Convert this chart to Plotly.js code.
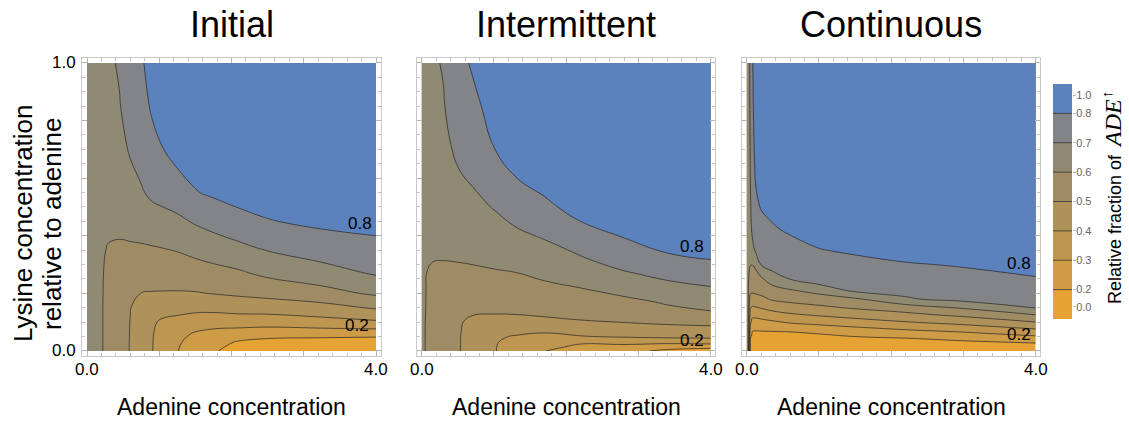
<!DOCTYPE html>
<html><head><meta charset="utf-8">
<script src="https://cdn.plot.ly/plotly-3.0.1.min.js"></script>
<style>html,body{margin:0;padding:0;background:#fff;} #chart{width:1129px;height:423px;}</style>
</head><body><div id="chart"></div>
<script>
// ---------- data ----------
const panelTitles = ['Initial', 'Intermittent', 'Continuous'];
const contourLevels = [0.2, 0.3, 0.4, 0.5, 0.6, 0.7, 0.8];
const bandTickLabels = ['0.0', '0.2', '0.3', '0.4', '0.5', '0.6', '0.7', '0.8', '1.0'];
const bandColors = ['#E6A232', '#CE9B46', '#BE9650', '#AF915A', '#A08C64', '#918A73', '#828487', '#5C82BE'];
const xTickLabels = ['0.0', '4.0'];
const yTickLabels = ['0.0', '1.0'];

// Initial panel: adenine (x) grid, lysine (y) grid, z given column by column (one array per x)
const initialX = [0, 0.1, 0.2, 0.3, 0.45, 0.6, 0.75, 0.9, 1.05, 1.25, 1.5, 1.75, 2.1, 2.5, 3.25, 4];
const initialY = [0, 0.03, 0.06, 0.1, 0.15, 0.2, 0.27, 0.35, 0.45, 0.55, 0.7, 0.85, 1.0];
const initialZ = [
  [0.655,0.655,0.655,0.655,0.655,0.656,0.657,0.658,0.66,0.662,0.664,0.666,0.668],
  [0.632,0.632,0.632,0.633,0.633,0.634,0.636,0.64,0.648,0.655,0.662,0.668,0.672],
  [0.605,0.605,0.605,0.605,0.605,0.606,0.607,0.612,0.625,0.64,0.658,0.672,0.678],
  [0.578,0.578,0.578,0.578,0.579,0.58,0.583,0.592,0.624,0.645,0.665,0.68,0.685],
  [0.537,0.537,0.538,0.54,0.545,0.552,0.565,0.585,0.625,0.645,0.67,0.695,0.71],
  [0.496,0.496,0.497,0.498,0.502,0.52,0.55,0.585,0.635,0.665,0.71,0.745,0.77],
  [0.45,0.451,0.453,0.457,0.468,0.499,0.545,0.586,0.645,0.69,0.74,0.77,0.79],
  [0.403,0.404,0.406,0.413,0.44,0.495,0.545,0.59,0.655,0.72,0.775,0.81,0.83],
  [0.36,0.362,0.368,0.385,0.44,0.494,0.545,0.595,0.665,0.735,0.798,0.84,0.855],
  [0.303,0.31,0.325,0.37,0.435,0.493,0.548,0.604,0.68,0.755,0.835,0.87,0.885],
  [0.255,0.27,0.292,0.345,0.43,0.495,0.555,0.625,0.71,0.795,0.85,0.88,0.895],
  [0.21,0.235,0.272,0.34,0.43,0.503,0.568,0.645,0.735,0.815,0.86,0.885,0.9],
  [0.16,0.19,0.255,0.345,0.44,0.515,0.587,0.67,0.77,0.835,0.87,0.89,0.9],
  [0.13,0.17,0.24,0.345,0.445,0.53,0.62,0.703,0.795,0.845,0.875,0.89,0.9],
  [0.11,0.155,0.24,0.365,0.465,0.565,0.66,0.745,0.82,0.855,0.88,0.895,0.905],
  [0.1,0.14,0.24,0.385,0.51,0.615,0.71,0.77,0.83,0.86,0.885,0.9,0.91]
];

// Intermittent panel
const intermittentX = [0, 0.03, 0.07, 0.15, 0.3, 0.5, 0.7, 1.0, 1.3, 1.7, 2.2, 2.8, 3.4, 4];
const intermittentY = [0, 0.015, 0.03, 0.05, 0.075, 0.1, 0.13, 0.17, 0.22, 0.27, 0.32, 0.4, 0.5, 0.6, 0.7, 0.85, 1.0];
const intermittentZ = [
  [0.64,0.64,0.64,0.64,0.64,0.64,0.64,0.641,0.642,0.644,0.647,0.652,0.658,0.663,0.668,0.675,0.68],
  [0.605,0.605,0.605,0.605,0.605,0.606,0.607,0.609,0.613,0.622,0.633,0.645,0.655,0.662,0.668,0.677,0.685],
  [0.594,0.594,0.594,0.594,0.594,0.594,0.595,0.596,0.596,0.599,0.62,0.64,0.655,0.665,0.672,0.685,0.695],
  [0.578,0.578,0.578,0.578,0.578,0.578,0.579,0.58,0.583,0.59,0.603,0.63,0.65,0.662,0.672,0.685,0.69],
  [0.548,0.548,0.548,0.548,0.549,0.55,0.552,0.556,0.565,0.58,0.603,0.635,0.655,0.668,0.678,0.695,0.705],
  [0.507,0.507,0.507,0.507,0.508,0.509,0.512,0.52,0.54,0.565,0.611,0.638,0.665,0.69,0.715,0.745,0.77],
  [0.468,0.469,0.47,0.472,0.477,0.485,0.505,0.53,0.555,0.578,0.615,0.645,0.675,0.71,0.74,0.775,0.81],
  [0.405,0.405,0.406,0.41,0.43,0.455,0.503,0.54,0.57,0.593,0.617,0.655,0.705,0.755,0.798,0.835,0.855],
  [0.36,0.368,0.378,0.395,0.425,0.46,0.505,0.54,0.573,0.598,0.628,0.68,0.745,0.798,0.84,0.865,0.88],
  [0.302,0.322,0.35,0.39,0.41,0.46,0.525,0.56,0.582,0.62,0.65,0.71,0.78,0.835,0.86,0.88,0.89],
  [0.26,0.285,0.31,0.395,0.445,0.49,0.53,0.565,0.601,0.64,0.69,0.765,0.835,0.865,0.88,0.895,0.9],
  [0.222,0.28,0.32,0.41,0.45,0.502,0.545,0.575,0.64,0.69,0.75,0.805,0.85,0.875,0.885,0.9,0.905],
  [0.185,0.23,0.33,0.42,0.46,0.52,0.57,0.61,0.67,0.73,0.79,0.83,0.86,0.88,0.89,0.905,0.91],
  [0.17,0.22,0.35,0.42,0.47,0.53,0.585,0.65,0.695,0.76,0.802,0.84,0.865,0.88,0.89,0.905,0.91]
];

// Continuous panel
const continuousX = [0, 0.02, 0.035, 0.05, 0.08, 0.13, 0.2, 0.35, 0.6, 1.0, 1.5, 2.2, 3.0, 4];
const continuousY = [0, 0.02, 0.04, 0.06, 0.08, 0.1, 0.125, 0.15, 0.18, 0.21, 0.25, 0.3, 0.35, 0.42, 0.5, 0.65, 0.8, 1.0];
const continuousZ = [
  [0.64,0.64,0.64,0.64,0.64,0.64,0.64,0.64,0.641,0.642,0.644,0.647,0.65,0.653,0.656,0.66,0.663,0.666],
  [0.61,0.61,0.61,0.61,0.61,0.61,0.61,0.611,0.612,0.614,0.617,0.622,0.63,0.64,0.65,0.66,0.667,0.675],
  [0.398,0.41,0.42,0.43,0.44,0.455,0.475,0.499,0.525,0.55,0.585,0.615,0.635,0.655,0.668,0.68,0.688,0.695],
  [0.19,0.195,0.199,0.24,0.28,0.32,0.36,0.403,0.47,0.52,0.56,0.605,0.64,0.665,0.685,0.702,0.706,0.708],
  [0.17,0.175,0.18,0.19,0.215,0.26,0.33,0.39,0.455,0.52,0.555,0.602,0.665,0.725,0.75,0.77,0.785,0.795],
  [0.16,0.165,0.17,0.18,0.22,0.26,0.33,0.395,0.46,0.53,0.575,0.615,0.725,0.76,0.785,0.82,0.835,0.845],
  [0.15,0.155,0.165,0.18,0.225,0.27,0.34,0.405,0.475,0.535,0.585,0.705,0.745,0.77,0.805,0.84,0.855,0.865],
  [0.14,0.148,0.16,0.18,0.23,0.285,0.36,0.43,0.51,0.555,0.65,0.74,0.765,0.79,0.82,0.85,0.865,0.875],
  [0.13,0.14,0.155,0.18,0.245,0.31,0.385,0.455,0.53,0.59,0.702,0.745,0.77,0.81,0.835,0.86,0.875,0.885],
  [0.125,0.14,0.16,0.202,0.265,0.33,0.41,0.48,0.55,0.635,0.76,0.775,0.797,0.83,0.85,0.87,0.88,0.89],
  [0.12,0.14,0.17,0.23,0.29,0.355,0.44,0.51,0.585,0.72,0.75,0.78,0.81,0.84,0.855,0.875,0.885,0.895],
  [0.115,0.145,0.185,0.255,0.32,0.395,0.475,0.545,0.69,0.725,0.76,0.795,0.825,0.85,0.865,0.88,0.89,0.9],
  [0.11,0.15,0.215,0.28,0.355,0.435,0.52,0.61,0.73,0.75,0.78,0.805,0.83,0.855,0.87,0.885,0.895,0.905],
  [0.105,0.17,0.25,0.33,0.415,0.498,0.598,0.705,0.735,0.76,0.795,0.825,0.845,0.865,0.875,0.89,0.9,0.91]
];

// ---------- build the figure ----------
const FONT = 'Liberation Sans, Arial, sans-serif';
const SERIF = 'Liberation Serif, Times New Roman, serif';
const nBands = bandColors.length;
const bandScale = bandColors.map((c, i) => [i / (nBands - 1), c]);
const lvStart = contourLevels[0], lvEnd = contourLevels[contourLevels.length - 1];
const lvSize = +(contourLevels[1] - contourLevels[0]).toFixed(6);

const panels = [
  {x: initialX, y: initialY, z: initialZ},
  {x: intermittentX, y: intermittentY, z: intermittentZ},
  {x: continuousX, y: continuousY, z: continuousZ}
];
const axId = (i, a) => i === 0 ? a : a + (i + 1);

const traces = panels.map((p, i) => ({
  type: 'contour',
  x: p.x, y: p.y, z: p.z, transpose: true,
  xaxis: axId(i, 'x'), yaxis: axId(i, 'y'),
  autocontour: false,
  contours: {start: lvStart, end: lvEnd, size: lvSize, coloring: 'fill', showlines: true},
  colorscale: bandScale,
  line: {color: 'rgba(40,40,40,0.72)', width: 1, smoothing: 1.3},
  showscale: false,
  hoverinfo: 'skip'
}));

// colour key: one cell per band
traces.push({
  type: 'heatmap',
  x: [0],
  y: bandColors.map((c, i) => i),
  z: bandColors.map((c, i) => [i]),
  zmin: 0, zmax: nBands - 1,
  colorscale: bandScale,
  showscale: false,
  xaxis: 'x4', yaxis: 'y4',
  hoverinfo: 'skip'
});

const px = v => v / 1129;
const py = v => 1 - v / 423;
const yDomain = [py(356.0), py(57.9)];
const xDomains = [[px(82.3), px(380.7)], [px(417.0), px(715.4)], [px(742.0), px(1040.4)]];

const frameCommon = {
  showline: true, mirror: 'ticks', linecolor: '#c9c9c9', linewidth: 1,
  ticks: 'inside', ticklen: 5, tickwidth: 1, tickcolor: '#b5b5b5',
  showticklabels: false,
  showgrid: false, zeroline: false, fixedrange: true
};
function xAxis(dom, anchor) {
  return Object.assign({}, frameCommon, {
    domain: dom, anchor: anchor, range: [-0.065, 4.065],
    tickmode: 'array', tickvals: [0, 1, 2, 3, 4],
    minor: {tickmode: 'linear', tick0: 0, dtick: 0.2, ticks: 'inside', ticklen: 3, tickwidth: 1, tickcolor: '#c2c2c2', showgrid: false}
  });
}
function yAxis(anchor) {
  return Object.assign({}, frameCommon, {
    domain: yDomain, anchor: anchor, range: [-0.0175, 1.0175],
    tickmode: 'array', tickvals: [0, 0.2, 0.4, 0.6, 0.8, 1.0],
    minor: {tickmode: 'linear', tick0: 0, dtick: 0.05, ticks: 'inside', ticklen: 3, tickwidth: 1, tickcolor: '#c2c2c2', showgrid: false}
  });
}

const annotations = [];
panelTitles.forEach((t, i) => {
  const xr = axId(i, 'x') + ' domain';
  annotations.push({text: t, xref: xr, x: 0.5, yref: 'paper', y: py(25), xanchor: 'center', yanchor: 'middle',
    showarrow: false, font: {family: FONT, size: 36, color: '#000'}});
  annotations.push({text: 'Adenine concentration', xref: xr, x: 0.5, yref: 'paper', y: py(407), xanchor: 'center', yanchor: 'middle',
    showarrow: false, font: {family: FONT, size: 23, color: '#000'}});
  // tick labels at the ends of the adenine axis
  [0, 4].forEach((v, k) => annotations.push({text: xTickLabels[k], xref: axId(i, 'x'), x: v, yref: 'paper', y: py(369),
    xanchor: 'center', yanchor: 'middle', showarrow: false, font: {family: FONT, size: 17, color: '#000'}}));
});
// tick labels at the ends of the lysine axis (first panel only)
[0, 1].forEach((v, k) => annotations.push({text: yTickLabels[k], xref: 'paper', x: px(78), yref: 'y', y: v,
  xanchor: 'right', yanchor: 'middle', showarrow: false, font: {family: FONT, size: 17, color: '#000'}}));

annotations.push({text: 'Lysine concentration', xref: 'paper', x: px(23), yref: 'paper', y: py(223), textangle: -90,
  xanchor: 'center', yanchor: 'middle', showarrow: false, font: {family: FONT, size: 26, color: '#000'}});
annotations.push({text: 'relative to adenine', xref: 'paper', x: px(52), yref: 'paper', y: py(224), textangle: -90,
  xanchor: 'center', yanchor: 'middle', showarrow: false, font: {family: FONT, size: 26, color: '#000'}});

// contour labels
const lab = (i, xv, yv, t) => annotations.push({text: t, xref: axId(i, 'x'), yref: axId(i, 'y'),
  x: xv, y: yv, xanchor: 'center', yanchor: 'middle', showarrow: false, font: {family: FONT, size: 17, color: '#000'}});
lab(0, 3.78, 0.444, '0.8'); lab(0, 3.74, 0.087, '0.2');
lab(1, 3.74, 0.362, '0.8'); lab(1, 3.74, 0.035, '0.2');
lab(2, 3.77, 0.305, '0.8'); lab(2, 3.77, 0.056, '0.2');

// colour key title: sans words, italic serif symbol, raised arrow
annotations.push({text: 'Relative fraction of', xref: 'paper', x: px(1115), yref: 'paper', y: py(229), textangle: -90,
  xanchor: 'center', yanchor: 'middle', showarrow: false, font: {family: FONT, size: 18, color: '#000'}});
annotations.push({text: 'ADE', xref: 'paper', x: px(1113), yref: 'paper', y: py(124), textangle: -90,
  xanchor: 'center', yanchor: 'middle', showarrow: false, font: {family: SERIF, size: 24, style: 'italic', color: '#000'}});
annotations.push({text: '↑', xref: 'paper', x: px(1107), yref: 'paper', y: py(94), textangle: -90,
  xanchor: 'center', yanchor: 'middle', showarrow: false, font: {family: SERIF, size: 15, color: '#000'}});

// separators inside colour key
const shapes = [];
for (let k = 0; k < nBands - 1; k++) {
  shapes.push({type: 'line', xref: 'x4 domain', x0: 0, x1: 1, yref: 'y4', y0: k + 0.5, y1: k + 0.5,
    line: {color: 'rgba(50,50,50,0.75)', width: 1}, layer: 'above'});
}

const layout = {
  width: 1129, height: 423,
  margin: {l: 0, r: 0, t: 0, b: 0},
  paper_bgcolor: '#fff', plot_bgcolor: '#fff',
  showlegend: false,
  xaxis: xAxis(xDomains[0], 'y'),
  xaxis2: xAxis(xDomains[1], 'y2'),
  xaxis3: xAxis(xDomains[2], 'y3'),
  yaxis: yAxis('x'),
  yaxis2: yAxis('x2'),
  yaxis3: yAxis('x3'),
  xaxis4: {domain: [px(1053), px(1072)], anchor: 'y4', range: [-0.5, 0.5], visible: false, fixedrange: true},
  yaxis4: {domain: [py(319), py(84)], anchor: 'x4', range: [-0.5, nBands - 0.5], side: 'right',
    tickmode: 'array', tickvals: [-0.09, 0.5, 1.5, 2.5, 3.5, 4.5, 5.5, 6.5, 7.12], ticktext: bandTickLabels,
    ticks: 'outside', ticklen: 3, tickcolor: '#bbb', tickfont: {family: FONT, size: 11, color: '#666'},
    ticklabelstandoff: -2,
    showline: false, showgrid: false, zeroline: false, fixedrange: true},
  annotations: annotations,
  shapes: shapes
};

Plotly.newPlot('chart', traces, layout, {displayModeBar: false, staticPlot: true});
</script>
</body></html>
